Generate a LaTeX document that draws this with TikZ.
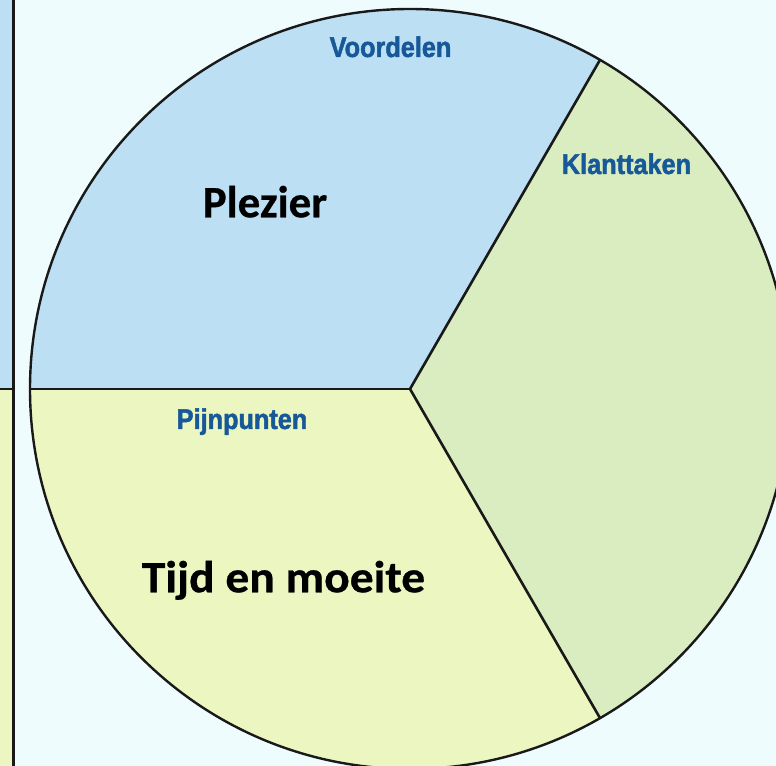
\documentclass[tikz,border=0pt]{standalone}
\usepackage{fontspec}
\usetikzlibrary{calc}
\setmainfont{Carlito}
\newfontfamily\condfont[FakeStretch=0.89, FakeBold=1.6]{Liberation Sans Bold}
\newfontfamily\mainbold[FakeBold=0.6]{Carlito Bold}
\definecolor{bgc}{RGB}{239,252,254}
\definecolor{blues}{RGB}{188,223,244}
\definecolor{greens}{RGB}{218,237,192}
\definecolor{yellows}{RGB}{235,246,193}
\definecolor{labelblue}{RGB}{22,88,152}
\tikzset{
  divider/.style={draw=black!90, line width=2.6bp},
  sectorlabel/.style={font=\condfont\fontsize{28.5}{30}\selectfont, text=labelblue, anchor=base, inner sep=0pt},
  maintext/.style={font=\mainbold\fontsize{45}{50}\selectfont, text=black, anchor=base, inner sep=0pt}
}
\begin{document}
\begin{tikzpicture}[x=1bp,y=1bp]
\useasboundingbox (0,0) rectangle (776,766);
\clip (0,0) rectangle (776,766);
\fill[bgc] (0,0) rectangle (776,766);
% left strip (edge of a neighbouring shape)
\fill[blues] (0,377) rectangle (13,766);
\fill[yellows] (0,0) rectangle (13,377);
\draw[divider] (0,377) -- (13,377);
\draw[divider] (13.3,-2) -- (13.3,768);
% pie
\coordinate (c) at (410,377);
\fill[blues] (c) -- ++(60:380) arc[start angle=60, end angle=180, radius=380] -- cycle;
\fill[yellows] (c) -- ++(180:380) arc[start angle=180, end angle=300, radius=380] -- cycle;
\fill[greens] (c) -- ++(-60:380) arc[start angle=-60, end angle=60, radius=380] -- cycle;
\coordinate (p1) at ($(c)+(60:380)$);
\coordinate (p2) at ($(c)+(180:380)$);
\coordinate (p3) at ($(c)+(-60:380)$);
\draw[divider] (c) -- (p1);
\draw[divider] (c) -- (p2);
\draw[divider] (c) -- (p3);
\draw[black!90, line width=2.4bp] (c) circle[radius=380];
% labels
\node[sectorlabel] (voordelen) at (390.5,709) {Voordelen};
\node[sectorlabel] (klanttaken) at (626.5,592) {Klanttaken};
\node[sectorlabel] (pijnpunten) at (242,337) {Pijnpunten};
\node[maintext] (plezier) at (265,548.7) {Plezier};
\node[maintext] (tijd) at (283.5,173.7) {\scalebox{1.06}[1]{Tijd en moeite}};
\end{tikzpicture}
\end{document}
